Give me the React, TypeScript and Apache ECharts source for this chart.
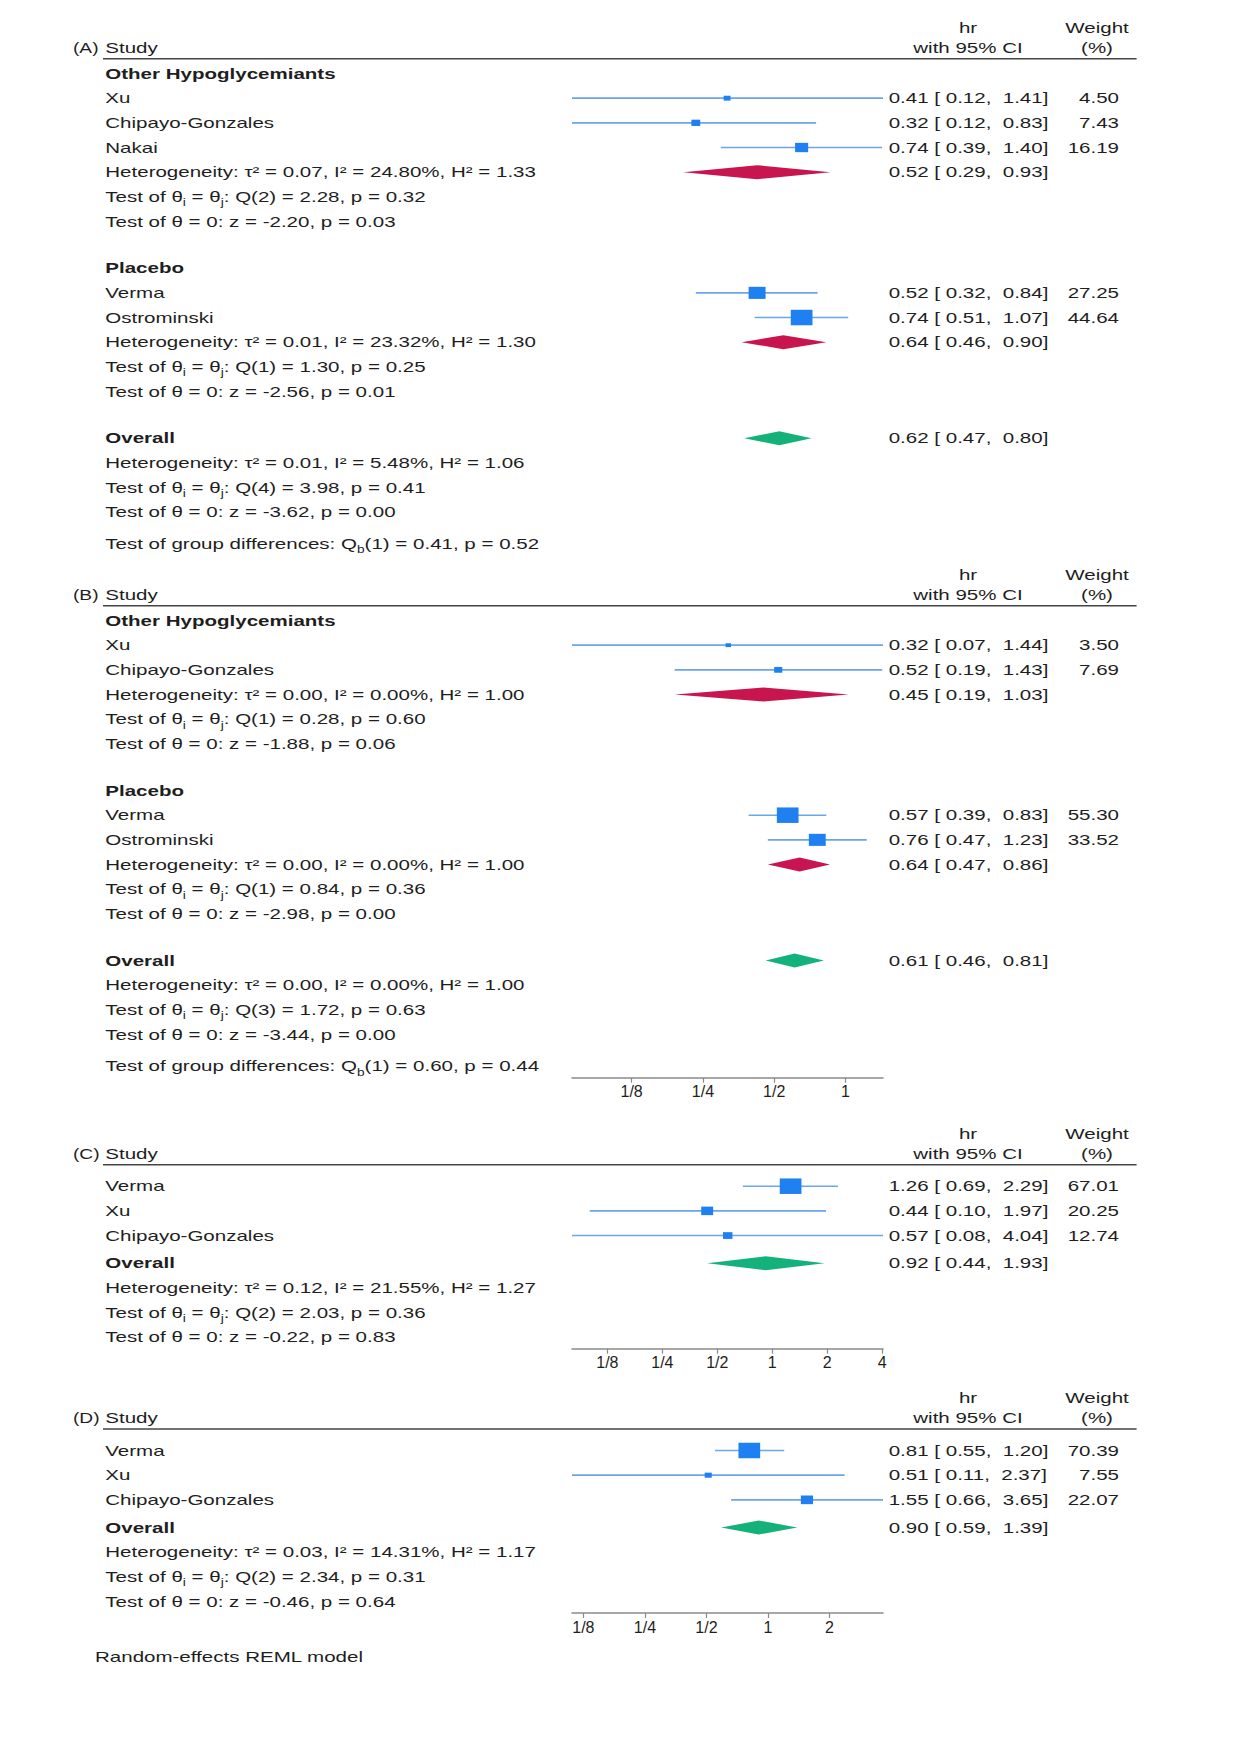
import React, { useEffect, useRef } from "react";
import * as echarts from "echarts";

type Study = [string, number, number, number, number]; // name, hr, lo, hi, weight
type Est = [number, number, number]; // hr, lo, hi

// ---------------- DATA ----------------
const GROUP_TITLES = ["Other Hypoglycemiants", "Placebo"];

// Panel A
const A_OTHER: Study[] = [
  ["Xu", 0.41, 0.12, 1.41, 4.5],
  ["Chipayo-Gonzales", 0.32, 0.12, 0.83, 7.43],
  ["Nakai", 0.74, 0.39, 1.4, 16.19],
];
const A_OTHER_SUM: Est = [0.52, 0.29, 0.93];
const A_OTHER_STATS = ["τ² = 0.07, I² = 24.80%, H² = 1.33", "Q(2) = 2.28, p = 0.32", "z = -2.20, p = 0.03"];
const A_PLACEBO: Study[] = [
  ["Verma", 0.52, 0.32, 0.84, 27.25],
  ["Ostrominski", 0.74, 0.51, 1.07, 44.64],
];
const A_PLACEBO_SUM: Est = [0.64, 0.46, 0.9];
const A_PLACEBO_STATS = ["τ² = 0.01, I² = 23.32%, H² = 1.30", "Q(1) = 1.30, p = 0.25", "z = -2.56, p = 0.01"];
const A_OVERALL: Est = [0.62, 0.47, 0.8];
const A_OVERALL_STATS = ["τ² = 0.01, I² = 5.48%, H² = 1.06", "Q(4) = 3.98, p = 0.41", "z = -3.62, p = 0.00"];
const A_GROUP_DIFF = ["1", "0.41", "0.52"];

// Panel B
const B_OTHER: Study[] = [
  ["Xu", 0.32, 0.07, 1.44, 3.5],
  ["Chipayo-Gonzales", 0.52, 0.19, 1.43, 7.69],
];
const B_OTHER_SUM: Est = [0.45, 0.19, 1.03];
const B_OTHER_STATS = ["τ² = 0.00, I² = 0.00%, H² = 1.00", "Q(1) = 0.28, p = 0.60", "z = -1.88, p = 0.06"];
const B_PLACEBO: Study[] = [
  ["Verma", 0.57, 0.39, 0.83, 55.3],
  ["Ostrominski", 0.76, 0.47, 1.23, 33.52],
];
const B_PLACEBO_SUM: Est = [0.64, 0.47, 0.86];
const B_PLACEBO_STATS = ["τ² = 0.00, I² = 0.00%, H² = 1.00", "Q(1) = 0.84, p = 0.36", "z = -2.98, p = 0.00"];
const B_OVERALL: Est = [0.61, 0.46, 0.81];
const B_OVERALL_STATS = ["τ² = 0.00, I² = 0.00%, H² = 1.00", "Q(3) = 1.72, p = 0.63", "z = -3.44, p = 0.00"];
const B_GROUP_DIFF = ["1", "0.60", "0.44"];
const B_TICKS = [0.125, 0.25, 0.5, 1];
const B_TICK_LABELS = ["1/8", "1/4", "1/2", "1"];

// Panel C
const C_STUDIES: Study[] = [
  ["Verma", 1.26, 0.69, 2.29, 67.01],
  ["Xu", 0.44, 0.1, 1.97, 20.25],
  ["Chipayo-Gonzales", 0.57, 0.08, 4.04, 12.74],
];
const C_OVERALL: Est = [0.92, 0.44, 1.93];
const C_OVERALL_STATS = ["τ² = 0.12, I² = 21.55%, H² = 1.27", "Q(2) = 2.03, p = 0.36", "z = -0.22, p = 0.83"];
const C_TICKS = [0.125, 0.25, 0.5, 1, 2, 4];
const C_TICK_LABELS = ["1/8", "1/4", "1/2", "1", "2", "4"];

// Panel D
const D_STUDIES: Study[] = [
  ["Verma", 0.81, 0.55, 1.2, 70.39],
  ["Xu", 0.51, 0.11, 2.37, 7.55],
  ["Chipayo-Gonzales", 1.55, 0.66, 3.65, 22.07],
];
const D_OVERALL: Est = [0.9, 0.59, 1.39];
const D_OVERALL_STATS = ["τ² = 0.03, I² = 14.31%, H² = 1.17", "Q(2) = 2.34, p = 0.31", "z = -0.46, p = 0.64"];
const D_TICKS = [0.125, 0.25, 0.5, 1, 2];
const D_TICK_LABELS = ["1/8", "1/4", "1/2", "1", "2"];

const PANEL_LABELS = ["(A)", "(B)", "(C)", "(D)"];
const HEAD_STUDY = "Study";
const HEAD_HR = ["hr", "with 95% CI"];
const HEAD_W = ["Weight", "(%)"];
const OVERALL_LABEL = "Overall";
const FOOTNOTE = "Random-effects REML model";

// ---------------- STYLE / LAYOUT ----------------
const W = 1242;
const H = 1755;
const FONT = '"Liberation Sans", Arial, Helvetica, sans-serif';
const SX = 1.368;
const TEXT_COLOR = "#1e1e1e";
const CI_COLOR = "#6aa5ee";
const MARKER_COLOR = "#1f80f2";
const SUB_COLOR = "#c8144f";
const ALL_COLOR = "#14b27a";
const AXIS_COLOR = "#8a8a8a";
const RULE_COLOR = "#444444";
const MARKER_MAX = 15.5;
const MARKER_ASPECT = 1.4;
const DIAMOND_HALF = 7;

const PLOT_LEFT = 572;
const PLOT_WIDTH = 311;
const X_LABEL = 73;
const X_TEXT = 105.3;
const X_HR = 888.7;
const X_HR_CENTER = 968;
const X_W_RIGHT = 1119;
const X_W_CENTER = 1097;
const RULE_X1 = 103;
const RULE_X2 = 1136.6;
const RH = 24.67;
const GROUP_GAP = 22;
const DIFF_GAP = 7;
const SIMPLE_GAP = 3;
const AXIS_GAP = 11.5;
const PANEL_TOPS = [28, 575, 1134, 1398.3];
const FOOT_Y = 1657.3;
const FOOT_X = 95;

type Group = { title: string; studies: Study[]; sum: Est; stats: string[] };
type Panel = {
  groups?: Group[];
  studies?: Study[];
  overall: Est;
  overallStats: string[];
  groupDiff?: string[];
  ticks?: number[];
  tickLabels?: string[];
};

const PANELS: Panel[] = [
  {
    groups: [
      { title: GROUP_TITLES[0], studies: A_OTHER, sum: A_OTHER_SUM, stats: A_OTHER_STATS },
      { title: GROUP_TITLES[1], studies: A_PLACEBO, sum: A_PLACEBO_SUM, stats: A_PLACEBO_STATS },
    ],
    overall: A_OVERALL,
    overallStats: A_OVERALL_STATS,
    groupDiff: A_GROUP_DIFF,
  },
  {
    groups: [
      { title: GROUP_TITLES[0], studies: B_OTHER, sum: B_OTHER_SUM, stats: B_OTHER_STATS },
      { title: GROUP_TITLES[1], studies: B_PLACEBO, sum: B_PLACEBO_SUM, stats: B_PLACEBO_STATS },
    ],
    overall: B_OVERALL,
    overallStats: B_OVERALL_STATS,
    groupDiff: B_GROUP_DIFF,
    ticks: B_TICKS,
    tickLabels: B_TICK_LABELS,
  },
  { studies: C_STUDIES, overall: C_OVERALL, overallStats: C_OVERALL_STATS, ticks: C_TICKS, tickLabels: C_TICK_LABELS },
  { studies: D_STUDIES, overall: D_OVERALL, overallStats: D_OVERALL_STATS, ticks: D_TICKS, tickLabels: D_TICK_LABELS },
];

const RICH = {
  s: { font: `10px ${FONT}`, fill: TEXT_COLOR, padding: [12, 0, 0, 0] },
};

function txt(x: number, y: number, text: string, o: { align?: string; bold?: boolean; rich?: boolean; size?: number } = {}) {
  const style: any = {
    text,
    x: 0,
    y: 0,
    fill: TEXT_COLOR,
    font: `${o.bold ? "bold " : ""}${o.size || 15}px ${FONT}`,
    align: o.align || "left",
    verticalAlign: "middle",
  };
  if (o.rich) style.rich = RICH;
  return { type: "text", x, y, scaleX: SX, silent: true, style };
}

const f2 = (v: number) => v.toFixed(2);
const ciText = (e: Est) => `${f2(e[0])} [ ${f2(e[1])},  ${f2(e[2])}]`;

function layoutPanel(p: Panel, top: number, label: string) {
  const texts: any[] = [];
  const studies: number[][] = [];
  const diamonds: number[][] = [];
  const ruleY = top + 30.8;
  texts.push(txt(X_HR_CENTER, top, HEAD_HR[0], { align: "center" }));
  texts.push(txt(X_W_CENTER, top, HEAD_W[0], { align: "center" }));
  texts.push(txt(X_LABEL, top + 20, label, { size: 14 }));
  texts.push(txt(X_TEXT, top + 20, HEAD_STUDY));
  texts.push(txt(X_HR_CENTER, top + 20, HEAD_HR[1], { align: "center" }));
  texts.push(txt(X_W_CENTER, top + 20, HEAD_W[1], { align: "center" }));

  const addStudy = (s: Study, y: number) => {
    texts.push(txt(X_TEXT, y, s[0]));
    texts.push(txt(X_HR, y, ciText([s[1], s[2], s[3]])));
    texts.push(txt(X_W_RIGHT, y, f2(s[4]), { align: "right" }));
    studies.push([s[2], s[3], s[1], y, s[4]]);
  };
  const addStats = (stats: string[], y: number) => {
    texts.push(txt(X_TEXT, y, `Heterogeneity: ${stats[0]}`));
    texts.push(txt(X_TEXT, y + RH, `Test of θ{s|i} = θ{s|j}: ${stats[1]}`, { rich: true }));
    texts.push(txt(X_TEXT, y + 2 * RH, `Test of θ = 0: ${stats[2]}`));
  };

  let y: number;
  let last: number;
  if (p.groups) {
    y = top + 45.5;
    p.groups.forEach((g, gi) => {
      if (gi > 0) y += GROUP_GAP;
      texts.push(txt(X_TEXT, y, g.title, { bold: true }));
      y += RH;
      g.studies.forEach((s) => {
        addStudy(s, y);
        y += RH;
      });
      diamonds.push([g.sum[1], g.sum[2], g.sum[0], y, 0]);
      texts.push(txt(X_HR, y, ciText(g.sum)));
      addStats(g.stats, y);
      y += 3 * RH;
    });
    y += GROUP_GAP;
    texts.push(txt(X_TEXT, y, OVERALL_LABEL, { bold: true }));
    diamonds.push([p.overall[1], p.overall[2], p.overall[0], y, 1]);
    texts.push(txt(X_HR, y, ciText(p.overall)));
    y += RH;
    addStats(p.overallStats, y);
    last = y + 2 * RH + RH + DIFF_GAP;
    const gd = p.groupDiff!;
    texts.push(txt(X_TEXT, last, `Test of group differences: Q{s|b}(${gd[0]}) = ${gd[1]}, p = ${gd[2]}`, { rich: true }));
  } else {
    y = top + 52.2;
    p.studies!.forEach((s) => {
      addStudy(s, y);
      y += RH;
    });
    y += SIMPLE_GAP;
    texts.push(txt(X_TEXT, y, OVERALL_LABEL, { bold: true }));
    diamonds.push([p.overall[1], p.overall[2], p.overall[0], y, 1]);
    texts.push(txt(X_HR, y, ciText(p.overall)));
    y += RH;
    addStats(p.overallStats, y);
    last = y + 2 * RH;
  }
  const axisY = last + AXIS_GAP;
  const all = studies.concat(diamonds);
  const dmin = Math.min(...all.map((d) => d[0]));
  const dmax = Math.max(...all.map((d) => d[1]));
  const wmax = Math.max(...studies.map((d) => d[4]));
  return { texts, studies, diamonds, ruleY, axisY, dmin, dmax, wmax };
}

function buildOption() {
  const grid: any[] = [];
  const xAxis: any[] = [];
  const yAxis: any[] = [];
  const series: any[] = [];
  const graphic: any[] = [];

  PANELS.forEach((p, i) => {
    const L = layoutPanel(p, PANEL_TOPS[i], PANEL_LABELS[i]);
    graphic.push(...L.texts);
    graphic.push({
      type: "line",
      silent: true,
      shape: { x1: RULE_X1, y1: L.ruleY, x2: RULE_X2, y2: L.ruleY },
      style: { stroke: RULE_COLOR, lineWidth: 1.5 },
    });
    grid.push({ left: PLOT_LEFT, width: PLOT_WIDTH, top: L.ruleY, height: L.axisY - L.ruleY, containLabel: false });
    const ticks = p.ticks || [];
    const labels = p.tickLabels || [];
    xAxis.push({
      type: "log",
      logBase: 2,
      gridIndex: i,
      min: L.dmin,
      max: L.dmax,
      show: !!p.ticks,
      axisLine: { show: true, lineStyle: { color: AXIS_COLOR, width: 1.5 } },
      axisTick: { show: true, customValues: ticks, length: 5, lineStyle: { color: AXIS_COLOR, width: 1.2 } },
      axisLabel: {
        show: true,
        customValues: ticks,
        margin: 6,
        color: TEXT_COLOR,
        fontSize: 16,
        fontFamily: FONT,
        formatter: (v: number) => {
          const k = ticks.findIndex((t) => Math.abs(Math.log2(t) - Math.log2(v)) < 1e-6);
          return k >= 0 ? labels[k] : "";
        },
      },
      splitLine: { show: false },
      minorTick: { show: false },
    });
    yAxis.push({ type: "value", gridIndex: i, min: L.ruleY, max: L.axisY, inverse: true, show: false });

    series.push({
      type: "custom",
      name: `studies-${i}`,
      xAxisIndex: i,
      yAxisIndex: i,
      clip: false,
      silent: true,
      encode: { x: [0, 1, 2], y: 3 },
      data: L.studies,
      renderItem: (_params: any, api: any) => {
        const lo = api.value(0);
        const hi = api.value(1);
        const est = api.value(2);
        const yv = api.value(3);
        const w = api.value(4);
        const a = api.coord([lo, yv]);
        const b = api.coord([hi, yv]);
        const c = api.coord([est, yv]);
        const h = MARKER_MAX * Math.sqrt(w / L.wmax);
        const wd = h * MARKER_ASPECT;
        return {
          type: "group",
          children: [
            { type: "line", shape: { x1: a[0], y1: a[1], x2: b[0], y2: b[1] }, style: { stroke: CI_COLOR, lineWidth: 1.6 } },
            { type: "rect", shape: { x: c[0] - wd / 2, y: c[1] - h / 2, width: wd, height: h }, style: { fill: MARKER_COLOR } },
          ],
        };
      },
    });
    series.push({
      type: "custom",
      name: `diamonds-${i}`,
      xAxisIndex: i,
      yAxisIndex: i,
      clip: false,
      silent: true,
      encode: { x: [0, 1, 2], y: 3 },
      data: L.diamonds,
      renderItem: (_params: any, api: any) => {
        const yv = api.value(3);
        const a = api.coord([api.value(0), yv]);
        const b = api.coord([api.value(1), yv]);
        const c = api.coord([api.value(2), yv]);
        return {
          type: "polygon",
          shape: {
            points: [
              [a[0], a[1]],
              [c[0], c[1] - DIAMOND_HALF],
              [b[0], b[1]],
              [c[0], c[1] + DIAMOND_HALF],
            ],
          },
          style: { fill: api.value(4) === 1 ? ALL_COLOR : SUB_COLOR },
        };
      },
    });
  });

  graphic.push(txt(FOOT_X, FOOT_Y, FOOTNOTE));

  return {
    animation: false,
    backgroundColor: "#ffffff",
    grid,
    xAxis,
    yAxis,
    series,
    graphic,
  };
}

export default function App() {
  const ref = useRef<HTMLDivElement>(null);
  useEffect(() => {
    if (!ref.current) return;
    const chart = echarts.init(ref.current, null, { renderer: "svg", width: W, height: H });
    chart.setOption(buildOption() as any);
    return () => chart.dispose();
  }, []);
  return (
    <div
      ref={ref}
      style={{ position: "absolute", left: 0, top: 0, width: W, height: H, background: "#ffffff" }}
    />
  );
}
